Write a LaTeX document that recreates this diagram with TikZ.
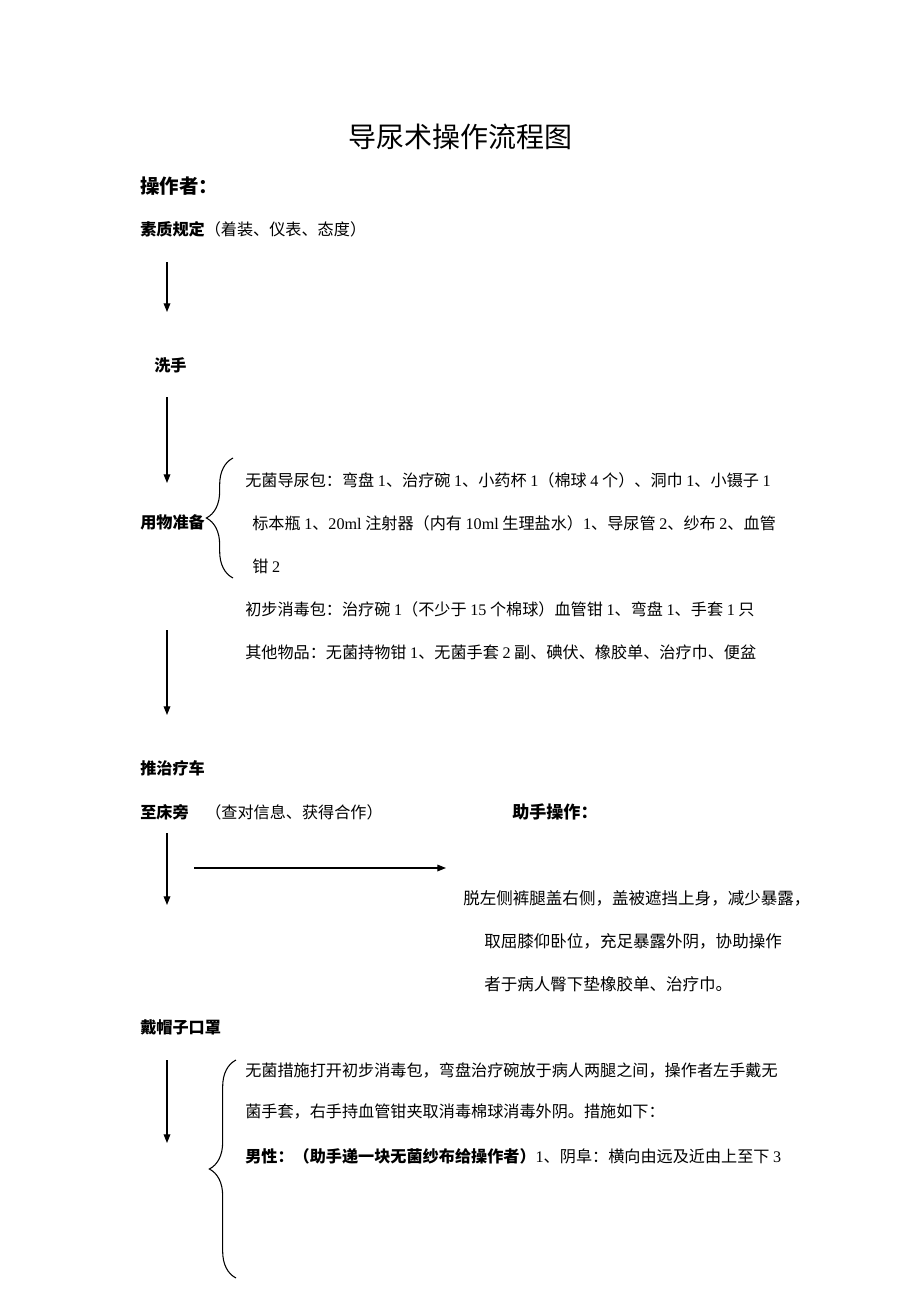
\documentclass[tikz,border=0pt]{standalone}
\usepackage{fontspec}
\setmainfont{Noto Sans CJK SC}
\newfontfamily\tnr{Liberation Serif}
\newcommand{\dg}[1]{{\tnr #1}}
\usetikzlibrary{arrows.meta,decorations.pathreplacing}

\begin{document}
\begin{tikzpicture}[x=0.75pt,y=-0.75pt,
    every node/.style={inner sep=0pt,anchor=west},
    body/.style={font=\fontsize{12.1}{14}\selectfont},
    head/.style={font=\fontsize{12.1}{14}\selectfont\bfseries},
    flow/.style={-{Triangle[length=6.5pt,width=5pt]},line width=0.9pt},
    bracket/.style={decorate,decoration={brace,amplitude=20pt},line width=0.8pt}]
  \useasboundingbox[fill=white] (0,0) rectangle (920,1302);

  % headings
  \node[anchor=center,font=\fontsize{21}{24}\selectfont] (title) at (460,137) {导尿术操作流程图};
  \node[font=\fontsize{14.6}{17}\selectfont\bfseries] (czz) at (140,186) {操作者：};

  % operator steps
  \node[body] (szgd) at (140,229) {\textbf{素质规定}（着装、仪表、态度）};
  \node[head] (xs) at (154,365) {洗手};
  \node[head] (ywzb) at (140,522) {用物准备};
  \node[head] (tzlc) at (140,768) {推治疗车};
  \node[head] (zcp) at (140,812) {至床旁};
  \node[body] (cdxx) at (205,812) {（查对信息、获得合作）};
  \node[head] (dmz) at (140,1027) {戴帽子口罩};

  % items
  \node[body] (wjb1) at (245,480) {无菌导尿包：弯盘 \dg{1}、治疗碗 \dg{1}、小药杯 \dg{1}（棉球 \dg{4} 个）、洞巾 \dg{1}、小镊子 \dg{1}};
  \node[body] (wjb2) at (252,523) {标本瓶 \dg{1}、\dg{20ml} 注射器（内有 \dg{10ml} 生理盐水）\dg{1}、导尿管 \dg{2}、纱布 \dg{2}、血管};
  \node[body] (wjb3) at (252,566) {钳 \dg{2}};
  \node[body] (cbxd) at (245,609) {初步消毒包：治疗碗 \dg{1}（不少于 \dg{15} 个棉球）血管钳 \dg{1}、弯盘 \dg{1}、手套 \dg{1} 只};
  \node[body] (qtwp) at (245,652) {其他物品：无菌持物钳 \dg{1}、无菌手套 \dg{2} 副、碘伏、橡胶单、治疗巾、便盆};

  % assistant
  \node[font=\fontsize{12.8}{15}\selectfont\bfseries] (zscz) at (512,812) {助手操作：};
  \node[font=\fontsize{12.4}{14}\selectfont] (zs1) at (463,898) {脱左侧裤腿盖右侧，盖被遮挡上身，减少暴露，};
  \node[font=\fontsize{12.4}{14}\selectfont] (zs2) at (484,941) {取屈膝仰卧位，充足暴露外阴，协助操作};
  \node[font=\fontsize{12.4}{14}\selectfont] (zs3) at (484,984) {者于病人臀下垫橡胶单、治疗巾。};

  % disinfection
  \node[body] (xd1) at (245,1070) {无菌措施打开初步消毒包，弯盘治疗碗放于病人两腿之间，操作者左手戴无};
  \node[body] (xd2) at (245,1112) {菌手套，右手持血管钳夹取消毒棉球消毒外阴。措施如下：};
  \node[body] (xd3) at (245,1156) {\textbf{男性：（助手递一块无菌纱布给操作者）}\dg{1}、阴阜：横向由远及近由上至下 \dg{3}};

  % arrow ends
  \coordinate (a1s) at (167,262);  \coordinate (a1e) at (167,312);
  \coordinate (a2s) at (167,397);  \coordinate (a2e) at (167,483);
  \coordinate (a3s) at (167,630);  \coordinate (a3e) at (167,715);
  \coordinate (a4s) at (167,833);  \coordinate (a4e) at (167,905);
  \coordinate (hs) at (194,868);   \coordinate (he) at (446,868);
  \coordinate (a5s) at (167,1060); \coordinate (a5e) at (167,1143);

  \draw[flow] (a1s) -- (a1e);
  \draw[flow] (a2s) -- (a2e);
  \draw[flow] (a3s) -- (a3e);
  \draw[flow] (a4s) -- (a4e);
  \draw[flow] (hs) -- (he);
  \draw[flow] (a5s) -- (a5e);

  % braces
  \coordinate (b1t) at (233,458);  \coordinate (b1b) at (233,578);
  \coordinate (b2t) at (236,1060); \coordinate (b2b) at (236,1278);
  \draw[bracket] (b1b) -- (b1t);
  \draw[bracket] (b2b) -- (b2t);
\end{tikzpicture}
\end{document}
